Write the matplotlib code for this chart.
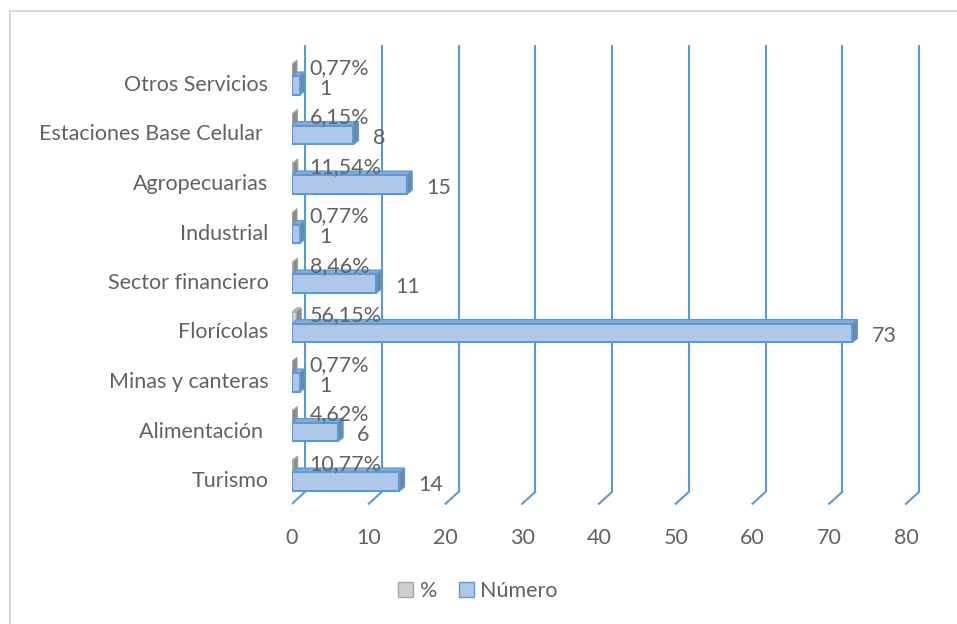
import matplotlib.pyplot as plt
from matplotlib.patches import Polygon, Rectangle, Patch

categorias = ['Turismo', 'Alimentación ', 'Minas y canteras', 'Florícolas',
              'Sector financiero', 'Industrial', 'Agropecuarias',
              'Estaciones Base Celular ', 'Otros Servicios']
numero = [14, 6, 1, 73, 11, 1, 15, 8, 1]
porcentaje = [0.1077, 0.0462, 0.0077, 0.5615, 0.0846, 0.0077, 0.1154, 0.0615, 0.0077]
x_ticks = [0, 10, 20, 30, 40, 50, 60, 70, 80]

BLUE_FACE = '#afc8ea'
BLUE_EDGE = '#5b9bd5'
BLUE_TOP = '#8eaad3'
BLUE_SIDE = '#6d86ad'
GRAY_FACE = '#cfcfcf'
GRAY_SIDE = '#8c8c8c'
GRID = '#5b9bd5'
TEXT = '#626262'
FS = 15.5


def main():
    plt.rcParams['font.family'] = ['Lato', 'DejaVu Sans']

    fig = plt.figure(figsize=(9.57, 6.24), dpi=100)
    px_unit = 7.675
    xmax = 84
    ax = fig.add_axes([292 / 957, (624 - 528.5) / 624,
                       xmax * px_unit / 957, 495 / 624])
    ax.set_xlim(0, xmax)
    ax.set_ylim(-1.0, 9.0)

    # 3D-style gridlines (back wall + slanted floor)
    gdx = 1.7
    for t in x_ticks:
        ax.plot([t + gdx, t + gdx], [-0.26, 8.77], color=GRID, lw=1.5,
                zorder=1, solid_capstyle='butt')
        ax.plot([t, t + gdx], [-0.50, -0.26], color=GRID, lw=1.5, zorder=1)

    dx, dy = 0.65, 0.08
    ys = list(range(len(categorias)))
    for y, n, p in zip(ys, numero, porcentaje):
        # % series (gray, nearly zero width)
        g0, g1 = y + 0.12, y + 0.38
        pw = p
        ax.add_patch(Polygon([(pw, g0), (pw + dx, g0 + dy), (pw + dx, g1 + dy), (pw, g1)],
                             closed=True, facecolor=GRAY_SIDE, edgecolor='#9a9a9a',
                             lw=0.6, zorder=3))
        ax.add_patch(Polygon([(0, g1), (dx, g1 + dy), (pw + dx, g1 + dy), (pw, g1)],
                             closed=True, facecolor='#b0b0b0', edgecolor='#b0b0b0',
                             lw=0.6, zorder=3))
        ax.barh(y + 0.25, pw, height=0.26, color=GRAY_FACE, edgecolor='#a6a6a6',
                lw=0.6, zorder=4)

        # Número series (blue)
        b0, b1 = y - 0.24, y + 0.14
        ax.add_patch(Polygon([(0, b1), (dx, b1 + dy), (n + dx, b1 + dy), (n, b1)],
                             closed=True, facecolor=BLUE_TOP, edgecolor=BLUE_EDGE,
                             lw=1.0, zorder=5))
        ax.add_patch(Polygon([(n, b0), (n + dx, b0 + dy), (n + dx, b1 + dy), (n, b1)],
                             closed=True, facecolor=BLUE_SIDE, edgecolor=BLUE_EDGE,
                             lw=1.0, zorder=5))
        ax.barh((b0 + b1) / 2, n, height=b1 - b0, color=BLUE_FACE,
                edgecolor=BLUE_EDGE, lw=1.5, zorder=6)

        pct = ('%.2f%%' % (p * 100)).replace('.', ',')
        ax.text(2.3, y + 0.31, pct, ha='left', va='center', fontsize=FS,
                color=TEXT, zorder=7)
        ax.text(n + 2.5, y - 0.12, str(n), ha='left', va='center', fontsize=FS,
                color=TEXT, zorder=7)

    ax.set_yticks(ys)
    ax.set_yticklabels(categorias)
    ax.set_xticks(x_ticks)
    ax.tick_params(axis='y', length=0, pad=17, labelsize=FS, labelcolor=TEXT)
    ax.tick_params(axis='x', length=0, pad=0, labelsize=FS, labelcolor=TEXT)
    for s in ax.spines.values():
        s.set_visible(False)

    handles = [Patch(facecolor=GRAY_FACE, edgecolor='#a6a6a6', label='%'),
               Patch(facecolor=BLUE_FACE, edgecolor=BLUE_EDGE, label='Número')]
    leg = fig.legend(handles=handles, loc='center', ncol=2, frameon=False,
                     bbox_to_anchor=(478 / 957, 1 - 591 / 624), fontsize=FS,
                     handlelength=0.7, handleheight=0.7, handletextpad=0.3,
                     columnspacing=1.0)
    for t in leg.get_texts():
        t.set_color(TEXT)

    fig.patches.append(Rectangle((9.5 / 957, -0.05), 1.1, 1 - 10.5 / 624 + 0.05,
                                 transform=fig.transFigure, fill=False,
                                 edgecolor='#d9d9d9', lw=1.5))

    fig.savefig('out.png', dpi=100)


if __name__ == '__main__':
    main()
